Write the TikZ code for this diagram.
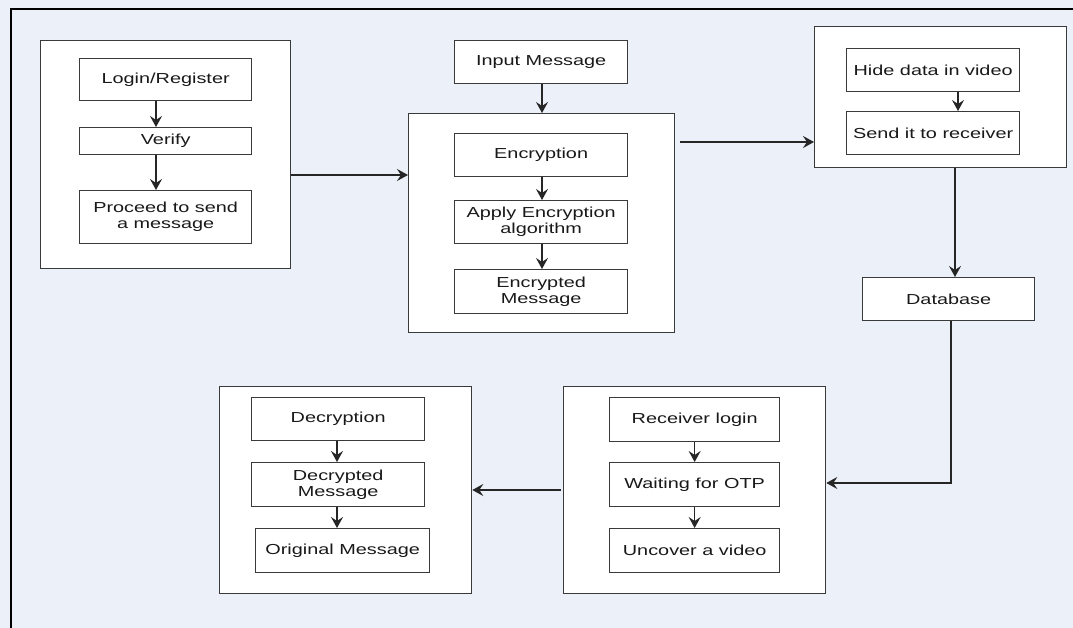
\documentclass[tikz,border=0pt]{standalone}
\usepackage{fontspec}
\setmainfont{Liberation Sans}
\usepackage{graphicx}
\usetikzlibrary{arrows.meta,calc}
\definecolor{bgc}{HTML}{ECF0F8}
\definecolor{edge}{HTML}{3A3A3A}
\newcommand{\st}[1]{\scalebox{1.37}[1]{#1}}
\tikzset{
  frame/.style={draw=edge, line width=1.3pt, fill=white},
  box/.style={draw=edge, line width=1.3pt, fill=white, anchor=north west, inner sep=0pt, align=center,
    font=\fontsize{14.5}{16}\selectfont, text=black!90},
  conn/.style={draw=black!85, line width=1.4pt, -{Stealth[length=11pt,width=12pt,inset=4pt]}},
}
\begin{document}
\begin{tikzpicture}[x=1pt,y=-1pt]
\useasboundingbox (0,0) rectangle (1073,628);
\fill[bgc] (0,0) rectangle (1073,628);
\draw[black, line width=2.6pt] (11,628) -- (11,9) -- (1073,9);

% group boxes
\node[box, minimum width=250pt, minimum height=228pt] (g1) at (40,40) {};
\node[box, minimum width=266pt, minimum height=219pt] (g2) at (408,113) {};
\node[box, minimum width=252pt, minimum height=141pt] (g3) at (814,26) {};
\node[box, minimum width=262pt, minimum height=207pt] (g4) at (563,386) {};
\node[box, minimum width=252pt, minimum height=207pt] (g5) at (219,386) {};

% group 1
\node[box, minimum width=172pt, minimum height=42pt] (login) at (79,58) {\st{Login/Register}};
\node[box, minimum width=172pt, minimum height=27pt] (verify) at (79,127) {\st{Verify}};
\node[box, minimum width=172pt, minimum height=53pt] (proceed) at (79,190) {\st{Proceed to send}\\\st{a message}};

% group 2
\node[box, minimum width=173pt, minimum height=43pt] (input) at (454,40) {\st{Input Message}};
\node[box, minimum width=173pt, minimum height=43pt] (enc) at (454,133) {\st{Encryption}};
\node[box, minimum width=173pt, minimum height=43pt] (apply) at (454,200) {\st{Apply Encryption}\\\st{algorithm}};
\node[box, minimum width=173pt, minimum height=44pt] (encm) at (454,269) {\st{Encrypted}\\\st{Message}};

% group 3
\node[box, minimum width=173pt, minimum height=43pt] (hide) at (846,48) {\st{Hide data in video}};
\node[box, minimum width=173pt, minimum height=43pt] (send) at (846,111) {\st{Send it to receiver}};

% database
\node[box, minimum width=172pt, minimum height=43pt] (db) at (862,277) {\st{Database}};

% group 4
\node[box, minimum width=170pt, minimum height=44pt] (rlogin) at (609,397) {\st{Receiver login}};
\node[box, minimum width=170pt, minimum height=44pt] (wait) at (609,462) {\st{Waiting for OTP}};
\node[box, minimum width=170pt, minimum height=44pt] (unc) at (609,528) {\st{Uncover a video}};

% group 5
\node[box, minimum width=173pt, minimum height=43pt] (dec) at (251,397) {\st{Decryption}};
\node[box, minimum width=173pt, minimum height=44pt] (decm) at (251,462) {\st{Decrypted}\\\st{Message}};
\node[box, minimum width=174pt, minimum height=44pt] (orig) at (255,528) {\st{Original Message}};

% helper coordinates
\coordinate (x1) at (156,0);
\coordinate (x2) at (542,0);
\coordinate (x3) at (958,0);
\coordinate (x4) at (955,0);
\coordinate (x5) at (951,0);
\coordinate (x7) at (337,0);
\coordinate (y12) at (0,175);
\coordinate (s23) at (680,142);
\coordinate (y45) at (0,490);
\coordinate (bend) at (951,483);

% connectors
\draw[conn] (login.south -| x1) -- (verify.north -| x1);
\draw[conn] (verify.south -| x1) -- (proceed.north -| x1);
\draw[conn] (input.south -| x2) -- (g2.north -| x2);
\draw[conn] (enc.south -| x2) -- (apply.north -| x2);
\draw[conn] (apply.south -| x2) -- (encm.north -| x2);
\draw[conn] (hide.south -| x3) -- (send.north -| x3);
\draw[conn] (rlogin) -- (wait);
\draw[conn] (wait) -- (unc);
\draw[conn] (dec.south -| x7) -- (decm.north -| x7);
\draw[conn] (decm.south -| x7) -- (orig.north -| x7);

\draw[conn] (g1.east |- y12) -- (g2.west |- y12);
\draw[conn] (s23) -- (g3.west |- s23);
\draw[conn] (g3.south -| x4) -- (db.north -| x4);
\draw[conn] (db.south -| x5) -- (bend) -- (g4.east |- bend);
\draw[conn] ($(g4.west |- y45)+(-2,0)$) -- (g5.east |- y45);
\end{tikzpicture}
\end{document}
